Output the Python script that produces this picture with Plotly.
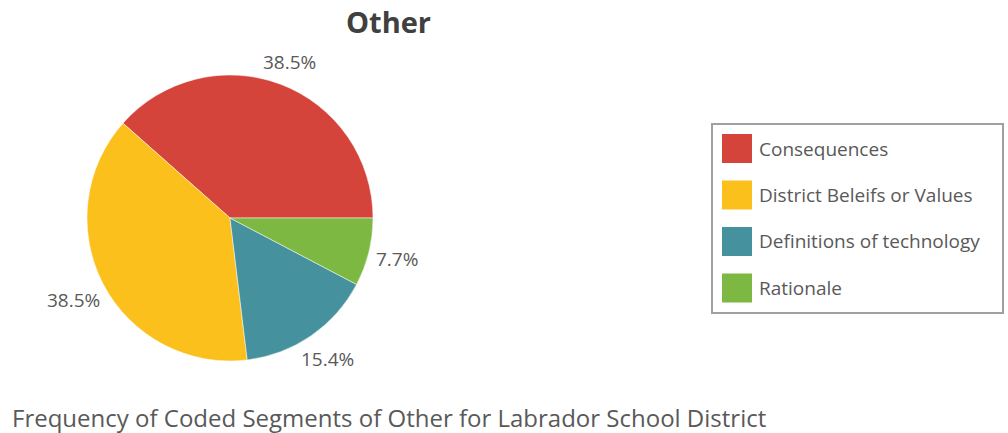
import math
import plotly.graph_objects as go

# Coded segment counts for the "Other" theme
categories = ["Consequences", "District Beleifs or Values", "Definitions of technology", "Rationale"]
counts = [5, 5, 2, 1]
colors = ["#D5443A", "#FBC01B", "#45929E", "#7DB843"]

W, H = 1008, 433
font_family = "Open Sans, Noto Sans, sans-serif"
text_color = "#595959"

# Pie geometry (pixels)
cx, cy, radius = 230, 218, 143
label_size = 19
label_gap = 6.5

total = sum(counts)
# First slice ends at 3 o'clock, the rest follow counterclockwise
start_rotation = 90 - 360 * counts[0] / total

fig = go.Figure()
fig.add_trace(go.Pie(
    labels=categories,
    values=counts,
    marker=dict(colors=colors, line=dict(color="#FFFFFF", width=0.5)),
    sort=False,
    direction="counterclockwise",
    rotation=start_rotation,
    textinfo="none",
    hovertemplate="%{label}: %{value} (%{percent:.1%})<extra></extra>",
    showlegend=False,
    domain=dict(x=[(cx - radius) / W, (cx + radius) / W],
                y=[1 - (cy + radius) / H, 1 - (cy - radius) / H]),
))

# Percentage labels just outside each slice, at the slice's mid-angle
# (angles in standard math orientation, 0 = 3 o'clock, counterclockwise)
angle = 0.0
for v in counts:
    span = 360 * v / total
    mid = math.radians(angle + span / 2)
    angle += span
    txt = f"{100 * v / total:.1f}%"
    half_w = len(txt) * 0.56 * label_size / 2
    half_h = 8.5
    extent = abs(half_w * math.cos(mid)) + abs(half_h * math.sin(mid))
    dist = radius + label_gap + extent
    lx = cx + dist * math.cos(mid)
    ly = cy - dist * math.sin(mid)
    fig.add_annotation(xref="paper", yref="paper", x=lx / W, y=1 - ly / H,
                       text=txt, showarrow=False, xanchor="center", yanchor="middle",
                       font=dict(family=font_family, size=label_size, color=text_color))

# Legend box with swatches
x0, x1, y0, y1 = 712, 1003, 124, 313
fig.add_shape(type="rect", xref="paper", yref="paper",
              x0=x0 / W, x1=x1 / W, y0=1 - y1 / H, y1=1 - y0 / H,
              line=dict(color="#A0A0A0", width=2), fillcolor="rgba(0,0,0,0)")
row_gap = 46.5
for i, (cat, col) in enumerate(zip(categories, colors)):
    top = 134 + i * row_gap
    fig.add_shape(type="rect", xref="paper", yref="paper",
                  x0=722 / W, x1=752 / W, y0=1 - (top + 29) / H, y1=1 - top / H,
                  line=dict(color=col, width=0), fillcolor=col)
    fig.add_annotation(xref="paper", yref="paper", x=757 / W, y=1 - (top + 14.5) / H,
                       text=cat, showarrow=False, xanchor="left", yanchor="middle",
                       font=dict(family=font_family, size=19, color=text_color))

fig.add_annotation(xref="paper", yref="paper", x=388 / W, y=1 - 22 / H,
                   text="<b>Other</b>", showarrow=False, xanchor="center", yanchor="middle",
                   font=dict(family=font_family, size=29, color="#404040"))
fig.add_annotation(xref="paper", yref="paper", x=10 / W, y=1 - 417 / H,
                   text="Frequency of Coded Segments of Other for Labrador School District",
                   showarrow=False, xanchor="left", yanchor="middle",
                   font=dict(family=font_family, size=24, color=text_color))

fig.update_layout(width=W, height=H,
                  margin=dict(l=0, r=0, t=0, b=0, autoexpand=False),
                  paper_bgcolor="white", plot_bgcolor="white")
fig.write_html("out.html")
